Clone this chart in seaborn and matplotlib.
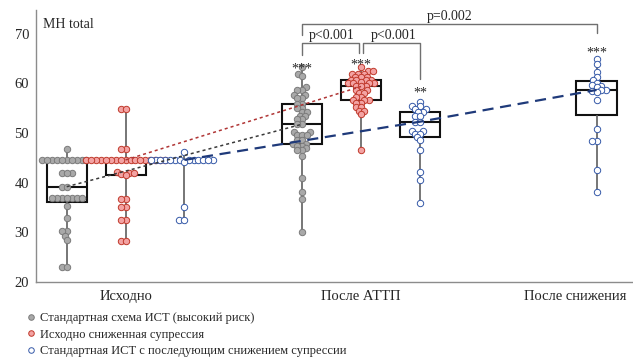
import numpy as np
import pandas as pd
import matplotlib
matplotlib.use("Agg")
import matplotlib.pyplot as plt
import matplotlib.transforms as mtransforms
from matplotlib.lines import Line2D
import seaborn as sns

# ---- data: MH total scores per regimen and time point ----
timepoints = ["Исходно", "После АТТП", "После снижения"]
groups = [
    "Стандартная схема ИСТ (высокий риск)",
    "Исходно сниженная супрессия",
    "Стандартная ИСТ с последующим снижением супрессии",
]

std_baseline = ([46.7] + [44.6] * 10 + [42.0] * 3 + [39.2] * 2 + [37.0] * 7
                + [35.3, 32.9, 30.3, 30.3, 29.2, 28.5, 23.0, 23.0])
std_post = ([63.3, 61.9, 61.5, 59.2, 58.7, 58.7, 57.6, 57.6, 57.0, 57.0,
             55.8, 55.8, 55.0, 55.0, 54.2, 54.2, 53.5, 53.5, 52.8, 52.8,
             51.8, 51.8, 50.2, 50.2, 49.6, 49.6, 49.6, 48.7, 48.7, 47.9,
             47.9, 47.5, 47.5, 47.0, 46.6, 46.6, 45.3, 40.9, 38.1, 36.7, 30.1])

low_baseline = ([54.8, 54.8, 46.8, 46.8] + [44.6] * 17
                + [42.2, 42.0, 42.0, 41.7, 41.5]
                + [36.8, 36.8, 35.2, 35.2, 32.4, 32.4, 28.3, 28.3])
low_post = ([63.3, 62.5, 62.5] + [62.0] * 3 + [61.4] * 3 + [60.7] * 4 + [60.4]
            + [60.0] * 4 + [59.4] * 3 + [58.6] * 2 + [58.0] * 2 + [57.3] * 2
            + [56.7] * 3 + [56.1] * 2 + [55.3] * 2 + [54.5] * 2 + [53.8, 46.6])

red_baseline = [46.2] + [44.6] * 13 + [44.2, 35.2, 32.4, 32.4]
red_post = ([56.3, 55.4, 55.4, 54.8, 54.8, 54.2, 54.2, 53.5, 53.5, 52.3, 52.3,
             50.5, 50.5, 49.9, 49.9, 49.2, 48.6, 46.6, 42.1, 40.6, 35.9])
red_after = ([64.9, 64.0, 62.4, 61.4, 60.7, 60.2, 59.6, 59.4, 59.2, 58.7,
              58.6, 58.5, 58.3, 56.7, 50.8, 48.5, 48.5, 42.6, 38.2])

stars = {("Стандартная схема ИСТ (высокий риск)", "После АТТП"): ("***", 63.0),
         ("Исходно сниженная супрессия", "После АТТП"): ("***", 63.7),
         ("Стандартная ИСТ с последующим снижением супрессии", "После АТТП"): ("**", 58.0),
         ("Стандартная ИСТ с последующим снижением супрессии", "После снижения"): ("***", 66.1)}

series = {
    (groups[0], timepoints[0]): std_baseline,
    (groups[0], timepoints[1]): std_post,
    (groups[1], timepoints[0]): low_baseline,
    (groups[1], timepoints[1]): low_post,
    (groups[2], timepoints[0]): red_baseline,
    (groups[2], timepoints[1]): red_post,
    (groups[2], timepoints[2]): red_after,
}

# ---- layout: slot of each box on the numeric x axis ----
tp_center = {timepoints[0]: 1.0, timepoints[1]: 5.0, timepoints[2]: 9.0}
grp_offset = {groups[0]: -1.0, groups[1]: 0.0, groups[2]: 1.0}


def slot(g, t):
    if t == timepoints[2]:
        return tp_center[t]
    return tp_center[t] + grp_offset[g]


rows = []
for (g, t), vals in series.items():
    for v in vals:
        rows.append({"group": g, "time": t, "pos": slot(g, t), "value": v})
df = pd.DataFrame(rows)

face = {groups[0]: "#a9a9a9", groups[1]: "#f3a3a3", groups[2]: "#ffffff"}
edge = {groups[0]: "#7a7a7a", groups[1]: "#c0392b", groups[2]: "#3559a8"}

sns.set_style("white")
plt.rcParams["font.family"] = ["Liberation Serif", "DejaVu Serif"]

fig = plt.figure(figsize=(6.33, 3.59), dpi=100)
ax = fig.add_axes([0.057, 0.2145, 0.943, 0.7575])

sns.boxplot(data=df, x="pos", y="value", orient="x", native_scale=True,
            width=0.68, whis=(0, 100), showfliers=False, showcaps=False,
            color="white", linecolor="#111111", linewidth=1.5,
            whiskerprops=dict(color="#5f5f5f", linewidth=1.2), ax=ax)

for g in groups:
    sub = df[df["group"] == g]
    sns.swarmplot(data=sub, x="pos", y="value", orient="x", native_scale=True,
                  size=2.5, color=face[g], edgecolor=edge[g], linewidth=0.7,
                  zorder=3, ax=ax)

# lay the swarm out with compact spacing, then freeze it and enlarge markers
fig.canvas.draw()
for coll in ax.collections:
    if "draw" in vars(coll):
        del coll.draw
    coll.set_sizes([4.6 ** 2])

# median trend lines
trend_style = {groups[0]: dict(color="#3a3a3a", ls=(0, (2, 2)), lw=1.1),
               groups[1]: dict(color="#b03535", ls=(0, (2, 2)), lw=1.1),
               groups[2]: dict(color="#1f3a7a", ls=(0, (5, 3)), lw=1.6)}
for g in groups:
    xs, ys = [], []
    for t in timepoints:
        if (g, t) in series:
            xs.append(slot(g, t))
            ys.append(np.median(series[(g, t)]))
    ax.plot(xs, ys, zorder=5, **trend_style[g])

# significance stars
for (g, t), (txt, y) in stars.items():
    ax.text(slot(g, t), y, txt, ha="center", va="center", fontsize=10, zorder=6)

# comparison brackets
br = dict(color="#707070", lw=1.0, zorder=6)
ax.plot([4.0, 4.0, 4.97, 4.97], [65.8, 68.2, 68.2, 66.1], **br)
ax.plot([5.03, 5.03, 6.0, 6.0], [66.1, 68.2, 68.2, 60.9], **br)
ax.plot([4.0, 4.0, 9.0, 9.0], [69.8, 72.0, 72.0, 70.2], **br)
ax.text(4.5, 68.3, "p<0.001", ha="center", va="bottom", fontsize=10)
ax.text(5.55, 68.3, "p<0.001", ha="center", va="bottom", fontsize=10)
ax.text(6.5, 72.1, "p=0.002", ha="center", va="bottom", fontsize=10)

ax.text(0.012, 0.972, "MH total", transform=ax.transAxes, ha="left", va="top",
        fontsize=10)

ax.set_xlim(-0.52, 9.62)
ax.set_ylim(20, 74.8)
ax.set_yticks([20, 30, 40, 50, 60, 70])
ax.set_xticks([tp_center[t] for t in timepoints])
ax.set_xticklabels(timepoints)
ax.set_xlabel("")
ax.set_ylabel("")
ax.tick_params(axis="both", length=0, labelsize=10.5)
ax.tick_params(axis="y", pad=5)
ax.tick_params(axis="x", pad=6)
last = ax.get_xticklabels()[-1]
last.set_ha("right")
last.set_transform(last.get_transform()
                   + mtransforms.ScaledTranslation(0.30, 0, fig.dpi_scale_trans))
for side in ["top", "right"]:
    ax.spines[side].set_visible(False)
for side in ["left", "bottom"]:
    ax.spines[side].set_color("#8c8c8c")
    ax.spines[side].set_linewidth(1.0)

handles = [Line2D([], [], ls="none", marker="o", markersize=4,
                  markerfacecolor=face[g], markeredgecolor=edge[g],
                  markeredgewidth=0.7) for g in groups]
fig.legend(handles, groups, loc="upper left", bbox_to_anchor=(0.043, 0.13),
           frameon=False, fontsize=9, handlelength=0.6, handletextpad=0.4,
           labelspacing=0.36, borderpad=0, borderaxespad=0)

fig.savefig("out.png", dpi=100)
